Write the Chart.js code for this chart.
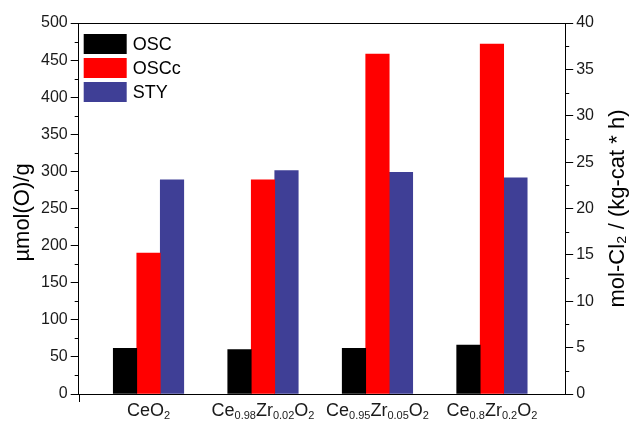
<!DOCTYPE html>
<html>
<head>
<meta charset="utf-8">
<script src="https://cdn.jsdelivr.net/npm/chart.js@4/dist/chart.umd.min.js"></script>
<style>
  html, body { margin: 0; padding: 0; background: #fff; }
  #chart { display: block; }
</style>
</head>
<body>
<canvas id="chart" width="629" height="421"></canvas>
<script>
// categories use _{..} for subscripts
const categories = ['CeO_{2}', 'Ce_{0.98}Zr_{0.02}O_{2}', 'Ce_{0.95}Zr_{0.05}O_{2}', 'Ce_{0.8}Zr_{0.2}O_{2}'];
const oscValues = [61.4, 60.0, 61.4, 65.9];       // µmol(O)/g
const osccValues = [190, 288.5, 458, 471.5];       // µmol(O)/g
const styValues = [23.1, 24.1, 23.9, 23.3];        // mol-Cl2 / (kg-cat * h)
const leftTicks = { min: 0, max: 500, step: 50 };
const rightTicks = { min: 0, max: 40, step: 5 };

const FONT = "'Liberation Sans', Arial, sans-serif";

function toPoints(values) {
    return values.map((v, i) => ({ x: i + 1, y: v }));
}

function parseLabel(str) {
    const parts = [];
    const re = /_\{([^}]*)\}|([^_]+)/g;
    let m;
    while ((m = re.exec(str)) !== null) {
        if (m[1] !== undefined) parts.push({ t: m[1], sub: true });
        else parts.push({ t: m[2], sub: false });
    }
    return parts;
}

const decorations = {
    id: 'decorations',
    afterDraw(chart) {
        const ctx = chart.ctx;
        const area = chart.chartArea;
        const x = chart.scales.x;
        const yl = chart.scales.y;
        const yr = chart.scales.y1;
        ctx.save();
        ctx.strokeStyle = '#000';
        ctx.lineWidth = 1;

        // top frame line
        ctx.beginPath();
        ctx.moveTo(area.left, Math.round(area.top) + 0.5);
        ctx.lineTo(area.right, Math.round(area.top) + 0.5);
        ctx.stroke();

        // minor ticks
        ctx.beginPath();
        for (let v = leftTicks.min + leftTicks.step / 2; v < leftTicks.max; v += leftTicks.step) {
            const py = Math.round(yl.getPixelForValue(v)) + 0.5;
            ctx.moveTo(area.left - 4, py);
            ctx.lineTo(area.left, py);
        }
        for (let v = rightTicks.min + rightTicks.step / 2; v < rightTicks.max; v += rightTicks.step) {
            const py = Math.round(yr.getPixelForValue(v)) + 0.5;
            ctx.moveTo(area.right, py);
            ctx.lineTo(area.right + 4, py);
        }
        // little tick below the origin
        ctx.moveTo(Math.round(area.left) + 0.5, area.bottom);
        ctx.lineTo(Math.round(area.left) + 0.5, area.bottom + 8);
        ctx.stroke();

        // category labels with subscripts
        ctx.fillStyle = '#1a1a1a';
        ctx.textBaseline = 'alphabetic';
        ctx.textAlign = 'left';
        const mainFont = '18px ' + FONT;
        const subFont = '11px ' + FONT;
        categories.forEach((c, i) => {
            const parts = parseLabel(c);
            let w = 0;
            parts.forEach(p => {
                ctx.font = p.sub ? subFont : mainFont;
                w += ctx.measureText(p.t).width;
            });
            let px = x.getPixelForValue(i + 1) - w / 2;
            const base = area.bottom + 22;
            parts.forEach(p => {
                ctx.font = p.sub ? subFont : mainFont;
                ctx.fillText(p.t, px, p.sub ? base + 3 : base);
                px += ctx.measureText(p.t).width;
            });
        });

        // axis titles, both read bottom to top
        ctx.fillStyle = '#000';
        ctx.font = '22px ' + FONT;
        ctx.textAlign = 'center';
        ctx.save();
        ctx.translate(29, (area.top + area.bottom) / 2 + 4);
        ctx.rotate(-Math.PI / 2);
        ctx.fillText('µmol(O)/g', 0, 0);
        ctx.restore();

        ctx.save();
        ctx.translate(624, (area.top + area.bottom) / 2);
        ctx.rotate(-Math.PI / 2);
        ctx.fillText('mol-Cl₂ / (kg-cat * h)', 0, 0);
        ctx.restore();

        // legend inside the plot
        ctx.textAlign = 'left';
        ctx.textBaseline = 'middle';
        ctx.font = '18px ' + FONT;
        chart.data.datasets.forEach((ds, i) => {
            const top = area.top + 11 + i * 24;
            ctx.fillStyle = ds.backgroundColor;
            ctx.fillRect(area.left + 5, top, 43, 20);
            ctx.fillStyle = '#000';
            ctx.fillText(ds.label, area.left + 54, top + 11);
        });
        ctx.restore();
    }
};

const tickFont = { family: FONT, size: 16 };

new Chart(document.getElementById('chart').getContext('2d'), {
    type: 'bar',
    data: {
        datasets: [
            { label: 'OSC', data: toPoints(oscValues), backgroundColor: '#000000', yAxisID: 'y' },
            { label: 'OSCc', data: toPoints(osccValues), backgroundColor: '#ff0000', yAxisID: 'y' },
            { label: 'STY', data: toPoints(styValues), backgroundColor: '#3f3f96', yAxisID: 'y1' }
        ]
    },
    options: {
        responsive: false,
        animation: false,
        devicePixelRatio: 1,
        layout: { padding: { left: 38, right: 32, top: 23, bottom: 27 } },
        datasets: { bar: { barThickness: 23.5, borderWidth: 0 } },
        plugins: { legend: { display: false }, tooltip: { enabled: false } },
        scales: {
            x: {
                type: 'linear',
                offset: false,
                min: 0.39,
                max: 4.64,
                ticks: { display: false, padding: 0 },
                grid: { display: false, drawTicks: false, offset: false },
                border: { display: true, color: '#000', width: 1 }
            },
            y: {
                position: 'left',
                min: leftTicks.min,
                max: leftTicks.max,
                ticks: { stepSize: leftTicks.step, font: tickFont, color: '#1a1a1a', padding: 3 },
                grid: { drawOnChartArea: false, tickLength: 8, color: '#000' },
                border: { color: '#000', width: 1 }
            },
            y1: {
                position: 'right',
                min: rightTicks.min,
                max: rightTicks.max,
                ticks: { stepSize: rightTicks.step, font: tickFont, color: '#1a1a1a', padding: 3 },
                grid: { drawOnChartArea: false, tickLength: 8, color: '#000' },
                border: { color: '#000', width: 1 }
            }
        }
    },
    plugins: [decorations]
});
</script>
</body>
</html>
